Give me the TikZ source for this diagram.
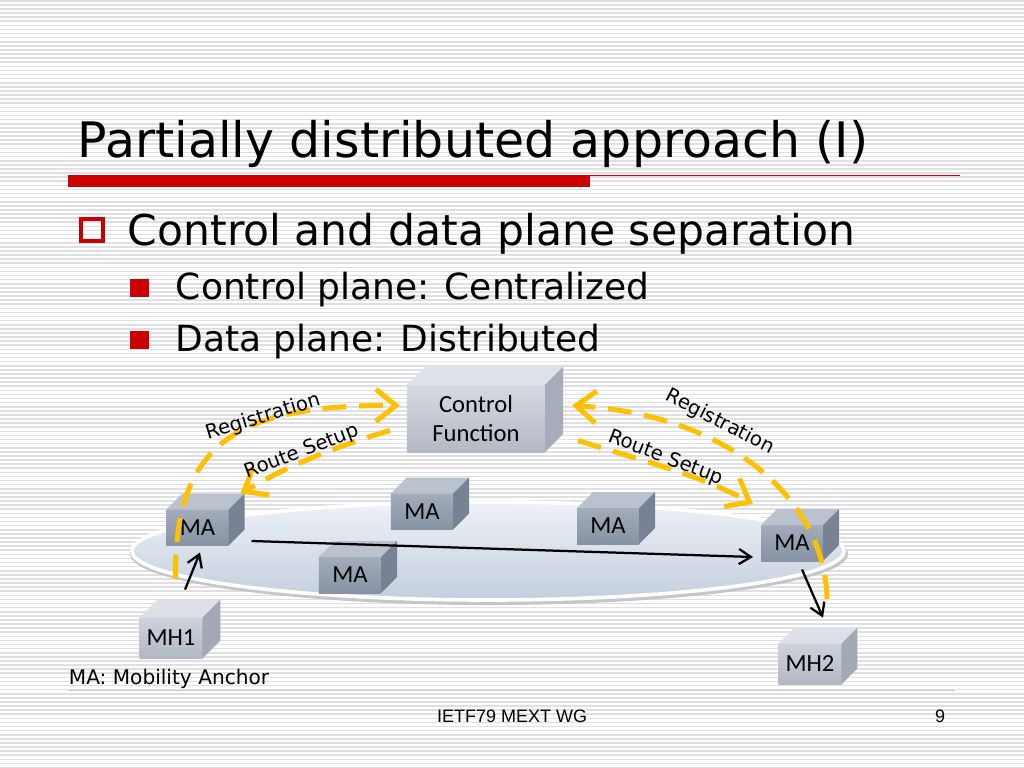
\documentclass[tikz,border=0pt]{standalone}
\usepackage{fontspec}
\setmainfont{DejaVu Sans}
\newfontfamily\boxfont{Carlito}
\newfontfamily\footfont{Liberation Sans}
\usetikzlibrary{arrows.meta}
\definecolor{slidered}{HTML}{CC0000}
\definecolor{stripecolor}{HTML}{E0E0E4}
\definecolor{signalgold}{HTML}{FFC000}
\definecolor{mafronttop}{HTML}{A2ACBA}
\definecolor{mafrontbot}{HTML}{8792A3}
\definecolor{matop}{HTML}{BAC2CE}
\definecolor{maside}{HTML}{778295}
\definecolor{cffronttop}{HTML}{D5D9E1}
\definecolor{cffrontbot}{HTML}{B3B9C5}
\definecolor{cftop}{HTML}{DFE3E9}
\definecolor{cfside}{HTML}{A6ADBA}
\definecolor{mhfronttop}{HTML}{CED2DA}
\definecolor{mhfrontbot}{HTML}{B2B8C3}
\definecolor{mhtop}{HTML}{DDE0E6}
\definecolor{mhside}{HTML}{A2A9B6}
\definecolor{planetop}{HTML}{EEF2F7}
\definecolor{planebot}{HTML}{C3CEDD}
\definecolor{footline}{HTML}{D9C4C6}

\newcommand{\cubefaces}[4]{%
\fill[#3] (#1.north west) -- ++(#2,-#2) -- ([shift={(#2,-#2)}]#1.north east) -- (#1.north east) -- cycle;%
\fill[#4] (#1.north east) -- ([shift={(#2,-#2)}]#1.north east) -- ([shift={(#2,-#2)}]#1.south east) -- (#1.south east) -- cycle;%
}

\tikzset{
  boxbase/.style={rectangle, inner sep=0pt, outer sep=0pt, font=\boxfont\fontsize{17.5pt}{20pt}\selectfont},
  mabox/.style={boxbase, minimum width=1.55cm, minimum height=0.9cm, top color=mafronttop, bottom color=mafrontbot},
  mhbox/.style={boxbase, minimum width=1.57cm, minimum height=1.02cm, top color=mhfronttop, bottom color=mhfrontbot},
  cfbox/.style={boxbase, minimum width=3.45cm, minimum height=1.68cm, top color=cffronttop, bottom color=cffrontbot, align=center},
  signal/.style={draw=signalgold, line width=3.6pt, dash pattern=on 17pt off 9pt, -{Straight Barb[length=0.5cm,width=0.8cm]}},
  flow/.style={draw=black, line width=1.6pt, -{Straight Barb[length=0.3cm,width=0.38cm]}},
  msglabel/.style={font=\fontsize{14pt}{16pt}\selectfont},
}

\begin{document}
\begin{tikzpicture}[x=0.025cm, y=-0.025cm]
\useasboundingbox (0,0) rectangle (1024,768);
\fill[white] (0,0) rectangle (1024,768);
\foreach \k in {0,...,187} {\fill[stripecolor] (0,\k*4.1) rectangle (1024,\k*4.1+1.6);}

\node[anchor=base west, font=\fontsize{34.8pt}{40pt}\selectfont] (title) at (73,157) {Partially distributed approach (I)};
\fill[slidered] (68,175) rectangle (590,187);
\fill[slidered] (590,175) rectangle (960,176.3);

\draw[slidered, line width=2.2pt] (81,219) rectangle (103,241);
\node[anchor=base west, font=\fontsize{30.2pt}{36pt}\selectfont] (lvl1) at (123,245) {Control and data plane separation};
\fill[slidered] (130,279) rectangle (149,297);
\node[anchor=base west, font=\fontsize{25.6pt}{30pt}\selectfont] (ctrl) at (171,299) {Control plane: Centralized};
\fill[slidered] (130,331) rectangle (149,349);
\node[anchor=base west, font=\fontsize{25.6pt}{30pt}\selectfont] (data) at (171,351) {Data plane: Distributed};

\fill[gray!45] (489,554) ellipse [x radius=359, y radius=51];
\draw[white, line width=2.6pt, top color=planetop, bottom color=planebot] (488,551) ellipse [x radius=356, y radius=49];

\node[cfbox] (cf) at (476,418.5) {Control\\Function};
\cubefaces{cf}{18}{cftop}{cfside}
\node[mabox] (ma1) at (197.5,527.5) {MA};
\cubefaces{ma1}{16}{matop}{maside}
\node[mabox] (ma2) at (422,511.5) {MA};
\cubefaces{ma2}{16}{matop}{maside}
\node[mabox] (ma3) at (350,575) {MA};
\cubefaces{ma3}{16}{matop}{maside}
\node[mabox] (ma4) at (608,526) {MA};
\cubefaces{ma4}{16}{matop}{maside}
\node[mabox] (ma5) at (792,543) {MA};
\cubefaces{ma5}{16}{matop}{maside}
\node[mhbox] (mh1) at (171,638) {MH1};
\cubefaces{mh1}{18}{mhtop}{mhside}
\node[mhbox] (mh2) at (810,664) {MH2};
\cubefaces{mh2}{16}{mhtop}{mhside}

\draw[flow] ([shift={(14,-28)}]mh1.north) -- ([shift={(2.5,7)}]ma1.south);
\draw[flow] ([shift={(23,13.5)}]ma1.east) -- ([shift={(-8,14)}]ma5.west);
\draw[flow] ([shift={(10,8.5)}]ma5.south) -- ([shift={(13,-26)}]mh2.north);

\draw[signal] ([shift={(9,33)}]ma1.south west) .. controls (174,440) and (240,405) .. ([shift={(-7,-13)}]cf.west);
\draw[signal] ([shift={(-17,12)}]cf.west) .. controls (330,448) and (280,470) .. ([shift={(12,-16)}]ma1.north east);
\draw[signal] ([shift={(4,38)}]ma5.south east) .. controls (825,500) and (730,415) .. ([shift={(27,-13)}]cf.east);
\draw[signal] ([shift={(33,22)}]cf.east) .. controls (640,460) and (700,475) .. ([shift={(-8,-21)}]ma5.north west);

\node[msglabel, rotate=17] (regleft) at (263,417) {Registration};
\node[msglabel, rotate=21] (routeleft) at (302,452) {Route Setup};
\node[msglabel, rotate=-27] (regright) at (720,422) {Registration};
\node[msglabel, rotate=-21] (routeright) at (666,458) {Route Setup};

\node[anchor=base west, font=\fontsize{14.3pt}{17pt}\selectfont] (legend) at (64,684) {MA: Mobility Anchor};
\draw[footline, line width=0.7pt] (68,690) -- (955,690);
\node[anchor=base, font=\footfont\fontsize{12.8pt}{15pt}\selectfont] (footer) at (512,722) {IETF79 MEXT WG};
\node[anchor=base, font=\footfont\fontsize{12.8pt}{15pt}\selectfont] (pagenum) at (940,722) {9};
\end{tikzpicture}
\end{document}
